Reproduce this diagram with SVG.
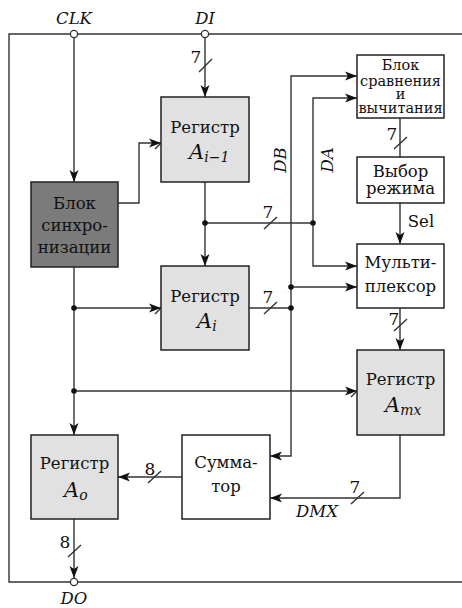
<svg xmlns="http://www.w3.org/2000/svg" width="462" height="608" viewBox="0 0 462 608">
<defs>
<marker id="ar" markerUnits="userSpaceOnUse" markerWidth="14" markerHeight="10" refX="12" refY="5" orient="auto">
<path d="M0,0.5 L12,5 L0,9.5 L3,5 z" fill="#111"/>
</marker>
<style>
.ln{fill:none;stroke:#333;stroke-width:1.4}
.ca{fill:none;stroke:#333;stroke-width:1.4;marker-end:url(#ar)}
.bx{stroke:#222;stroke-width:1.5;fill:#fff}
.rg{stroke:#222;stroke-width:1.5;fill:#e1e1e1}
.sy{stroke:#222;stroke-width:1.5;fill:#7b7b7b}
.t{font-family:"DejaVu Serif","Liberation Serif",serif;font-size:16.5px;fill:#111;text-anchor:middle}
.ts{font-family:"DejaVu Serif","Liberation Serif",serif;font-size:14.5px;fill:#111;text-anchor:middle}
.it{font-family:"DejaVu Serif","Liberation Serif",serif;font-style:italic;font-size:16.5px;fill:#111;text-anchor:middle}
.A{font-family:"DejaVu Serif","Liberation Serif",serif;font-style:italic;font-size:21px;fill:#111}
.sub{font-size:14px}
.n{font-family:"DejaVu Serif","Liberation Serif",serif;font-size:17px;fill:#111;text-anchor:middle}
.dot{fill:#111}
.pin{fill:#fff;stroke:#333;stroke-width:1.3}
</style>
</defs>

<g id="frame">
<path class="ln" d="M462,34 H9 V582 H462"/>
</g>

<g id="connectors">
<path class="ca" d="M74,38 V182"/>
<path class="ca" d="M205,38 V97"/>
<path class="ca" d="M118,203 H139 V143 H161"/>
<path class="ca" d="M205,182 V266"/>
<path class="ln" d="M205,223 H313"/>
<path class="ca" d="M313,223 V98 H357"/>
<path class="ca" d="M313,223 V266 H357"/>
<path class="ca" d="M291,300 V76 H357"/>
<path class="ca" d="M291,300 V456 H270"/>
<path class="ca" d="M291,287 H357"/>
<path class="ln" d="M249,308 H291"/>
<path class="ca" d="M74,267 V435"/>
<path class="ca" d="M74,308 H161"/>
<path class="ca" d="M74,391 H357"/>
<path class="ln" d="M400,118 V157"/>
<path class="ca" d="M400,203 V244"/>
<path class="ca" d="M400,308 V350"/>
<path class="ca" d="M400,435 V498 H270"/>
<path class="ca" d="M182,477 H118"/>
<path class="ca" d="M74,519 V578"/>
<!-- clock slashes -->
<path class="ln" d="M155,149 L167,137"/>
<path class="ln" d="M155,314 L167,302"/>
<path class="ln" d="M351,397 L363,385"/>
<!-- bus slashes -->
<path class="ln" d="M199,72 L212,59"/>
<path class="ln" d="M264,229 L277,217"/>
<path class="ln" d="M264,314 L277,302"/>
<path class="ln" d="M394,149 L407,137"/>
<path class="ln" d="M394,331 L407,319"/>
<path class="ln" d="M351,504 L364,492"/>
<path class="ln" d="M148,483 L161,471"/>
<path class="ln" d="M68,557 L81,545"/>
<!-- junctions -->
<circle class="dot" cx="205" cy="223" r="2.8"/>
<circle class="dot" cx="313" cy="223" r="2.8"/>
<circle class="dot" cx="291" cy="287" r="2.8"/>
<circle class="dot" cx="291" cy="308" r="2.8"/>
<circle class="dot" cx="74" cy="308" r="2.8"/>
<circle class="dot" cx="74" cy="391" r="2.8"/>
<!-- bus widths -->
<text class="n" x="196" y="63">7</text>
<text class="n" x="268" y="218">7</text>
<text class="n" x="268" y="303">7</text>
<text class="n" x="392" y="140">7</text>
<text class="n" x="394" y="325">7</text>
<text class="n" x="355" y="493">7</text>
<text class="n" x="150" y="475">8</text>
<text class="n" x="65" y="548">8</text>
<!-- signal labels -->
<text class="t" x="421" y="227">Sel</text>
<text class="it" x="317" y="517">DMX</text>
<text class="it" transform="translate(286,160) rotate(-90)">DB</text>
<text class="it" transform="translate(333,160) rotate(-90)">DA</text>
</g>

<g id="pins">
<circle class="pin" cx="74" cy="34" r="3.6"/>
<circle class="pin" cx="205" cy="34" r="3.6"/>
<circle class="pin" cx="74" cy="582" r="3.6"/>
<text class="it" x="74" y="24">CLK</text>
<text class="it" x="205" y="24">DI</text>
<text class="it" x="74" y="604">DO</text>
</g>

<g id="reg-ai1">
<rect class="rg" x="161" y="97" width="88" height="85"/>
<text class="t" x="205" y="133">Регистр</text>
<text class="A" x="189" y="159">A<tspan class="sub" dy="3">i−1</tspan></text>
</g>

<g id="sync">
<rect class="sy" x="31" y="182" width="87" height="85"/>
<text class="t" x="74.5" y="209">Блок</text>
<text class="t" x="74.5" y="231">синхро-</text>
<text class="t" x="74.5" y="253">низации</text>
</g>

<g id="reg-ai">
<rect class="rg" x="161" y="266" width="88" height="84"/>
<text class="t" x="205" y="302">Регистр</text>
<text class="A" x="197" y="328">A<tspan class="sub" dy="3">i</tspan></text>
</g>

<g id="cmp">
<rect class="bx" x="357" y="55" width="87" height="63"/>
<text class="ts" x="400.5" y="70">Блок</text>
<text class="ts" x="400.5" y="86">сравнения</text>
<text class="ts" x="400.5" y="99">и</text>
<text class="ts" x="400.5" y="113">вычитания</text>
</g>

<g id="mode">
<rect class="bx" x="357" y="157" width="87" height="46"/>
<text class="t" x="400.5" y="177">Выбор</text>
<text class="t" x="400.5" y="194">режима</text>
</g>

<g id="mux">
<rect class="bx" x="357" y="244" width="87" height="64"/>
<text class="t" x="400.5" y="268">Мульти-</text>
<text class="t" x="400.5" y="292">плексор</text>
</g>

<g id="reg-amx">
<rect class="rg" x="357" y="350" width="87" height="85"/>
<text class="t" x="400.5" y="385">Регистр</text>
<text class="A" x="385" y="412">A<tspan class="sub" dy="3">mx</tspan></text>
</g>

<g id="reg-ao">
<rect class="rg" x="31" y="435" width="87" height="84"/>
<text class="t" x="74.5" y="469">Регистр</text>
<text class="A" x="64" y="497">A<tspan class="sub" dy="3">o</tspan></text>
</g>

<g id="sum">
<rect class="bx" x="182" y="435" width="88" height="84"/>
<text class="t" x="226" y="468">Сумма-</text>
<text class="t" x="226" y="492">тор</text>
</g>
</svg>
